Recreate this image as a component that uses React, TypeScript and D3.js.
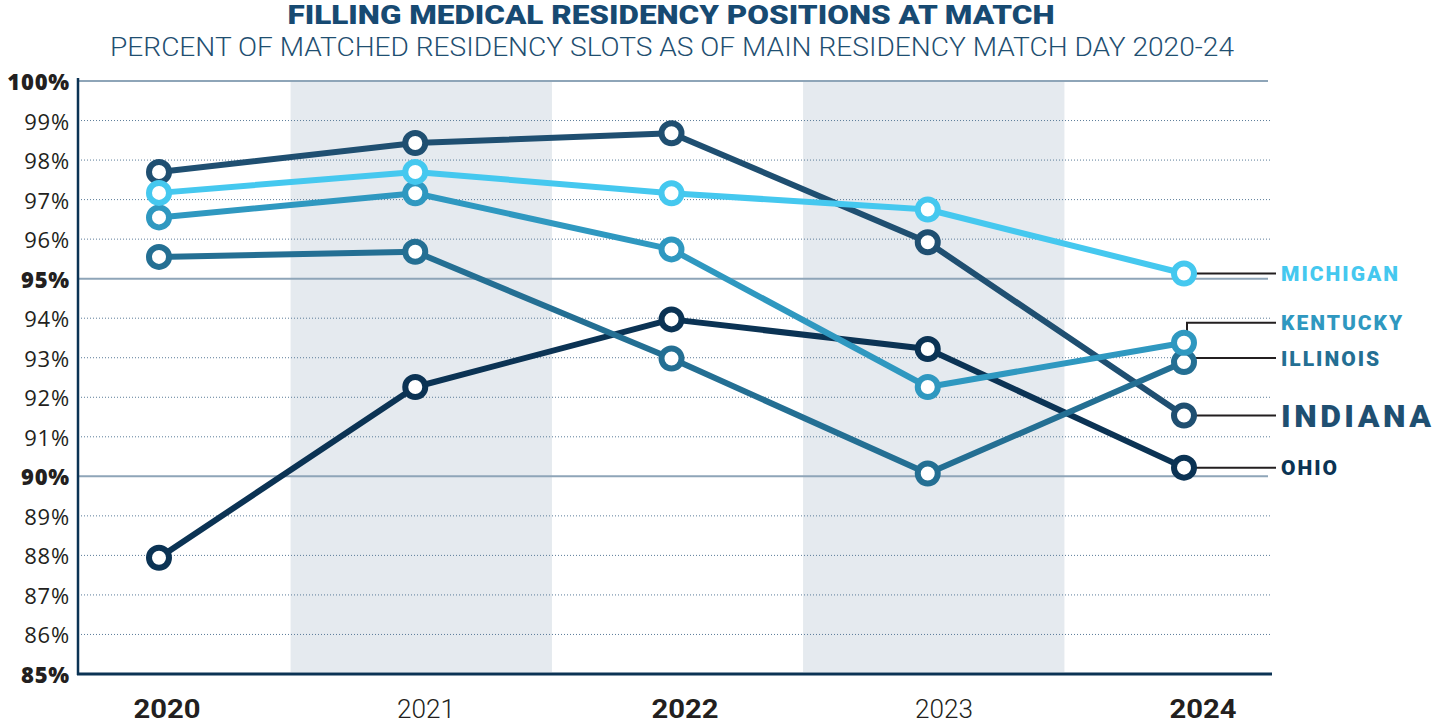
import React from "react";
import * as d3 from "d3";

const years = [2020, 2021, 2022, 2023, 2024];
const shadedYears = [2021, 2023];
const boldYears = [2020, 2022, 2024];
const yTicks = [85, 86, 87, 88, 89, 90, 91, 92, 93, 94, 95, 96, 97, 98, 99, 100];
const majorTicks = [85, 90, 95, 100];

const michigan = [97.17, 97.7, 97.16, 96.75, 95.13];
const kentucky = [96.55, 97.16, 95.74, 92.26, 93.38];
const illinois = [95.55, 95.68, 92.98, 90.07, 92.89];
const indiana = [97.7, 98.43, 98.68, 95.92, 91.54];
const ohio = [87.94, 92.26, 93.97, 93.22, 90.22];

const seriesNames = ["OHIO", "INDIANA", "ILLINOIS", "KENTUCKY", "MICHIGAN"];
const seriesValues = [ohio, indiana, illinois, kentucky, michigan];
const seriesColors = ["#0b3354", "#1f4f71", "#246f93", "#2f98c0", "#45c8ef"];
// label placement nudges (px) relative to the last point
const labelNudge = [0, 0, -4, -20, 0];
const labelSize = [21, 32, 21, 21, 21];

const W = 1442;
const H = 726;

export default function App() {
  const x = d3.scaleLinear().domain([2020, 2024]).range([159, 1184]);
  const xLab = d3.scaleLinear().domain([2020, 2024]).range([167, 1203]);
  const y = d3.scaleLinear().domain([85, 100]).range([674, 81]);
  const step = x(2021) - x(2020);
  const halfBand = step * 0.51;
  const left = 78;
  const right = 1272;
  const line = d3
    .line<number>()
    .x((_, i) => x(years[i]))
    .y((d) => y(d));

  const lastIdx = years.length - 1;
  const labelX = 1281;
  const connEnd = 1276;

  return (
    <svg
      width={W}
      height={H}
      style={{ position: "absolute", left: 0, top: 0, background: "#fff" }}
    >
      {/* title */}
      <text
        x={671}
        y={24}
        textAnchor="middle"
        fontFamily="Roboto, 'Liberation Sans', sans-serif"
        fontWeight={900}
        fontSize={26}
        fill="#174a72"
        textLength={767}
        lengthAdjust="spacingAndGlyphs"
      >
        FILLING MEDICAL RESIDENCY POSITIONS AT MATCH
      </text>
      <text
        x={672}
        y={56}
        textAnchor="middle"
        fontFamily="Roboto, 'Liberation Sans', sans-serif"
        fontWeight={300}
        fontSize={25}
        fill="#1f4f71"
        textLength={1124}
        lengthAdjust="spacingAndGlyphs"
      >
        PERCENT OF MATCHED RESIDENCY SLOTS AS OF MAIN RESIDENCY MATCH DAY 2020-24
      </text>

      {/* shaded bands */}
      {shadedYears.map((yr) => (
        <rect
          key={yr}
          x={x(yr) - halfBand + 6}
          y={y(100)}
          width={halfBand * 2}
          height={y(85) - y(100) - 2}
          fill="#e5eaef"
        />
      ))}

      {/* gridlines */}
      {yTicks
        .filter((t) => t !== 85)
        .map((t) =>
          majorTicks.includes(t) ? (
            <line
              key={t}
              x1={left}
              x2={1268}
              y1={y(t)}
              y2={y(t)}
              stroke="#8ea5b8"
              strokeWidth={2}
            />
          ) : (
            <line
              key={t}
              x1={left}
              x2={right}
              y1={y(t)}
              y2={y(t)}
              stroke="#5b7c99"
              strokeWidth={1}
              strokeDasharray="1,2"
            />
          )
        )}

      {/* axes */}
      <line x1={left} x2={left} y1={y(100) - 3} y2={y(85) + 1} stroke="#0b3354" strokeWidth={2.5} />
      <line x1={left - 1} x2={right} y1={y(85)} y2={y(85)} stroke="#0b3354" strokeWidth={3} />

      {/* y tick labels */}
      {yTicks.map((t) => (
        <text
          key={t}
          x={70}
          y={y(t) + 9}
          textAnchor="end"
          fontFamily="'Open Sans', Lato, sans-serif"
          fontWeight={majorTicks.includes(t) ? 800 : 400}
          fontSize={22}
          letterSpacing={0.8}
          fill="#231f20"
        >
          {t}%
        </text>
      ))}

      {/* x labels */}
      {years.map((yr) => {
        const bold = boldYears.includes(yr);
        return (
          <text
            key={yr}
            x={xLab(yr)}
            y={718}
            textAnchor="middle"
            fontFamily="Roboto, 'Liberation Sans', sans-serif"
            fontWeight={bold ? 700 : 300}
            fontSize={25}
            fill="#231f20"
            textLength={bold ? 67 : 58}
            lengthAdjust="spacingAndGlyphs"
          >
            {yr}
          </text>
        );
      })}

      {/* connectors */}
      {seriesValues.map((vals, si) => {
        const px = x(years[lastIdx]);
        const py = y(vals[lastIdx]);
        const ly = py + labelNudge[si];
        const d =
          labelNudge[si] < -10
            ? `M${px + 3},${py}L${px + 3},${ly}L${connEnd},${ly}`
            : `M${px},${ly}L${connEnd},${ly}`;
        return <path key={si} d={d} fill="none" stroke="#231f20" strokeWidth={2} />;
      })}

      {/* series */}
      {seriesValues.map((vals, si) => (
        <g key={seriesNames[si]}>
          <path d={line(vals) || ""} fill="none" stroke={seriesColors[si]} strokeWidth={6} strokeLinejoin="round" />
          {vals.map((v, i) => (
            <circle
              key={i}
              cx={x(years[i])}
              cy={y(v)}
              r={10}
              fill="#fff"
              stroke={seriesColors[si]}
              strokeWidth={6}
            />
          ))}
        </g>
      ))}

      {/* series labels */}
      {seriesValues.map((vals, si) => {
        const ly = y(vals[lastIdx]) + labelNudge[si];
        return (
          <text
            key={seriesNames[si]}
            x={labelX}
            y={ly}
            dy="0.36em"
            fontFamily="Roboto, 'Liberation Sans', Arial, sans-serif"
            fontWeight={900}
            fontSize={labelSize[si]}
            letterSpacing={si === 1 ? 3.5 : 2}
            fill={seriesColors[si]}
          >
            {seriesNames[si]}
          </text>
        );
      })}
    </svg>
  );
}
